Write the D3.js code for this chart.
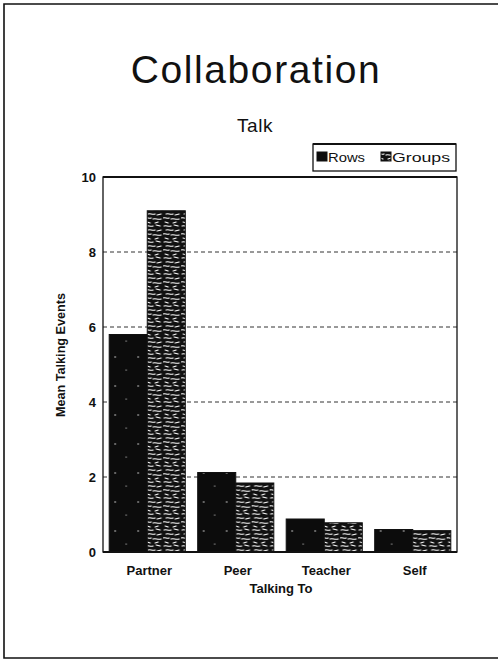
<!DOCTYPE html>
<html>
<head>
<meta charset="utf-8">
<script src="https://cdn.jsdelivr.net/npm/d3@7"></script>
<style>
  html, body { margin: 0; padding: 0; background: #fff; }
  svg { display: block; font-family: "Liberation Sans", Arial, sans-serif; }
</style>
</head>
<body>
<svg id="chart" width="498" height="662"></svg>
<script>
const categories = ["Partner", "Peer", "Teacher", "Self"];
const seriesNames = ["Rows", "Groups"];
const rowsValues = [5.8, 2.12, 0.88, 0.6];
const groupsValues = [9.1, 1.84, 0.78, 0.57];
const yTicks = [0, 2, 4, 6, 8, 10];

const svg = d3.select("#chart");
const W = 498, H = 662;
const plot = { left: 103, top: 177, right: 457, bottom: 552 };

// patterns
const defs = svg.append("defs");
const pat = defs.append("pattern").attr("id", "speckle")
  .attr("patternUnits", "userSpaceOnUse").attr("width", 18).attr("height", 16);
pat.append("rect").attr("width", 18).attr("height", 16).attr("fill", "#111");
const strokes = [
  "M1,2 C3,1 5,3 8,2", "M11,1 L15,2", "M3,6 C5,5 7,7 10,6", "M12,7 L16,6",
  "M0,10 C2,9 4,11 6,10", "M8,11 C10,10 13,12 16,11", "M2,14 L5,15", "M10,15 L13,14"
];
pat.selectAll("path").data(strokes).join("path")
  .attr("d", d => d).attr("stroke", "#fff").attr("stroke-width", 1.2)
  .attr("fill", "none").attr("stroke-linecap", "round");
const patR = defs.append("pattern").attr("id", "solidish")
  .attr("patternUnits", "userSpaceOnUse").attr("width", 23).attr("height", 29);
patR.append("rect").attr("width", 23).attr("height", 29).attr("fill", "#0c0c0c");
patR.append("circle").attr("cx", 6).attr("cy", 9).attr("r", 0.7).attr("fill", "#fff");
patR.append("circle").attr("cx", 17).attr("cy", 22).attr("r", 0.6).attr("fill", "#fff");

// outer frame
svg.append("path")
  .attr("d", d3.line()([[W + 5, 4], [4, 4], [4, 658], [W + 5, 658]]))
  .attr("fill", "none").attr("stroke", "#111").attr("stroke-width", 1.6);

// titles
svg.append("text").attr("x", 256).attr("y", 83).attr("text-anchor", "middle")
  .attr("font-size", 39).attr("letter-spacing", 1.6).attr("fill", "#111")
  .text("Collaboration");
svg.append("text").attr("x", 255).attr("y", 132).attr("text-anchor", "middle")
  .attr("font-size", 19).attr("letter-spacing", 0.6).attr("fill", "#111")
  .text("Talk");

// scales
const x0 = d3.scaleBand().domain(categories).range([plot.left, plot.right])
  .paddingInner(0.14).paddingOuter(0.07);
const x1 = d3.scaleBand().domain(seriesNames).range([0, x0.bandwidth()]);
const y = d3.scaleLinear().domain([0, 10]).range([plot.bottom, plot.top]);

// gridlines
svg.append("g").selectAll("line").data(yTicks.filter(t => t > 0 && t < 10)).join("line")
  .attr("x1", plot.left).attr("x2", plot.right)
  .attr("y1", d => y(d)).attr("y2", d => y(d))
  .attr("stroke", "#333").attr("stroke-width", 1).attr("stroke-dasharray", "4,3");

// bars
const data = categories.map((c, i) => ({ cat: c, vals: [
  { s: "Rows", v: rowsValues[i] }, { s: "Groups", v: groupsValues[i] }] }));
const g = svg.append("g");
g.selectAll("g").data(data).join("g")
  .attr("transform", d => `translate(${x0(d.cat)},0)`)
  .selectAll("rect").data(d => d.vals).join("rect")
  .attr("x", d => x1(d.s)).attr("width", x1.bandwidth())
  .attr("y", d => y(d.v)).attr("height", d => y(0) - y(d.v))
  .attr("fill", d => d.s === "Rows" ? "url(#solidish)" : "url(#speckle)")
  .attr("stroke", "#111").attr("stroke-width", 1);

// plot frame
svg.append("rect").attr("x", plot.left).attr("y", plot.top)
  .attr("width", plot.right - plot.left).attr("height", plot.bottom - plot.top)
  .attr("fill", "none").attr("stroke", "#111").attr("stroke-width", 1.3);
svg.append("line").attr("x1", plot.left).attr("x2", plot.right)
  .attr("y1", plot.top).attr("y2", plot.top).attr("stroke", "#111").attr("stroke-width", 2);
svg.append("line").attr("x1", plot.left).attr("x2", plot.right)
  .attr("y1", plot.bottom).attr("y2", plot.bottom).attr("stroke", "#111").attr("stroke-width", 2);

// y axis
const yAxis = svg.append("g").attr("transform", `translate(${plot.left - 7},0)`)
  .call(d3.axisLeft(y).tickValues(yTicks).tickSize(0).tickPadding(0));
yAxis.select(".domain").remove();
yAxis.selectAll("text").attr("font-size", 13).attr("font-weight", "bold")
  .attr("font-family", "Liberation Sans, Arial, sans-serif").attr("fill", "#111");

// x axis
const xAxis = svg.append("g").attr("transform", `translate(0,${plot.bottom})`)
  .call(d3.axisBottom(x0).tickSize(0).tickPadding(14));
xAxis.select(".domain").remove();
xAxis.selectAll("text").attr("font-size", 13).attr("font-weight", "bold")
  .attr("font-family", "Liberation Sans, Arial, sans-serif").attr("fill", "#111")
  .attr("dx", 2);

// axis titles
svg.append("text").attr("x", 281).attr("y", 593).attr("text-anchor", "middle")
  .attr("font-size", 13).attr("font-weight", "bold").attr("fill", "#111")
  .text("Talking To");
svg.append("text").attr("transform", "translate(65,355) rotate(-90)")
  .attr("text-anchor", "middle").attr("font-size", 13).attr("font-weight", "bold")
  .attr("textLength", 124).attr("lengthAdjust", "spacingAndGlyphs")
  .attr("fill", "#111").text("Mean Talking Events");

// legend
const leg = svg.append("g");
leg.append("rect").attr("x", 313).attr("y", 144).attr("width", 143).attr("height", 27)
  .attr("fill", "#fff").attr("stroke", "#111").attr("stroke-width", 1.3);
leg.append("line").attr("x1", 313).attr("x2", 456).attr("y1", 144).attr("y2", 144)
  .attr("stroke", "#111").attr("stroke-width", 2);
const legItems = [
  { name: seriesNames[0], x: 317, fill: "url(#solidish)", tw: 37 },
  { name: seriesNames[1], x: 381, fill: "url(#speckle)", tw: 58 }
];
legItems.forEach(it => {
  leg.append("rect").attr("x", it.x).attr("y", 152).attr("width", 10).attr("height", 9)
    .attr("fill", it.fill).attr("stroke", "#111");
  leg.append("text").attr("x", it.x + 11).attr("y", 162).attr("font-size", 13)
    .attr("textLength", it.tw).attr("lengthAdjust", "spacingAndGlyphs")
    .attr("fill", "#111").text(it.name);
});
</script>
</body>
</html>
